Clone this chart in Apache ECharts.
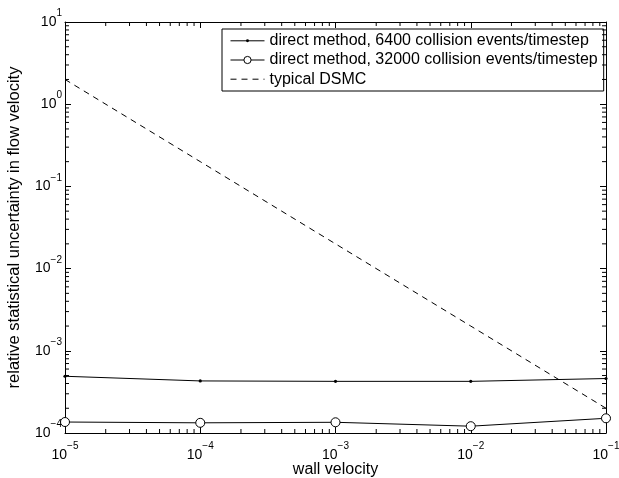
<!DOCTYPE html>
<html><head><meta charset="utf-8">
<script src="https://cdn.jsdelivr.net/npm/echarts@6/dist/echarts.min.js"></script>
<style>html,body{margin:0;padding:0;background:#fff}#c{width:619px;height:478px}</style>
</head><body><div id="c"></div>
<script>
const wallVelocity = [1e-5, 1e-4, 1e-3, 1e-2, 1e-1];
const direct6400 = [4.9e-4, 4.3e-4, 4.25e-4, 4.25e-4, 4.6e-4];
const direct32000 = [1.36e-4, 1.33e-4, 1.35e-4, 1.21e-4, 1.51e-4];
const typicalDSMC = [2.0, 0.2, 0.02, 0.002, 0.0002];
const seriesNames = ['direct method, 6400 collision events/timestep', 'direct method, 32000 collision events/timestep', 'typical DSMC'];
const xTitle = 'wall velocity';
const yTitle = 'relative statistical uncertainty in flow velocity';
const xRange = [1e-5, 1e-1];
const yRange = [1e-4, 1e1];

const FONT = 'Liberation Sans';
// small dot symbol with transparent padding so the legend copy stays small
const DOT = 'path://M0,0L0,0M10,10L10,10M5,3A2,2,0,1,1,5,7A2,2,0,1,1,5,3Z';

function minorValues(lo, hi) {
  const out = [];
  for (let e = Math.round(Math.log10(lo)); e < Math.round(Math.log10(hi)); e++)
    for (let m = 2; m <= 9; m++) out.push(m * Math.pow(10, e));
  return out;
}
function sup(v) {
  const e = Math.round(Math.log10(v));
  return '{b|10}{s|' + (e < 0 ? '\u2212' : '') + Math.abs(e) + '}';
}
const rich = {
  b: {fontSize: 14, fontFamily: FONT, color: '#000', lineHeight: 14},
  s: {fontSize: 10, fontFamily: FONT, color: '#000', lineHeight: 10, padding: [0, 0, 17, 0]}
};
const zip = (xs, ys) => xs.map((x, i) => [x, ys[i]]);

function baseAxis(extra) {
  return Object.assign({
    type: 'log', logBase: 10,
    axisLine: {show: true, onZero: false, lineStyle: {color: '#000', width: 1}},
    axisTick: {show: true, inside: true, length: 6, lineStyle: {color: '#000', width: 1}},
    splitLine: {show: false},
    minorTick: {show: false},
    minorSplitLine: {show: false},
    nameMoveOverlap: false
  }, extra);
}

const chart = echarts.init(document.getElementById('c'), null, {renderer: 'canvas'});
const option = {
  animation: false,
  backgroundColor: '#fff',
  grid: {left: 65, right: 13, top: 22, bottom: 45, containLabel: false, outerBoundsMode: 'none'},
  legend: {
    orient: 'vertical', left: 222, top: 29,
    backgroundColor: '#fff', borderColor: '#000', borderWidth: 1, borderRadius: 0,
    padding: [3.8, 6, 3.8, 8], itemGap: 3.2, itemWidth: 34, itemHeight: 9,
    lineStyle: {width: 1},
    textStyle: {fontFamily: FONT, fontSize: 16, lineHeight: 14, color: '#000'},
    data: [
      {name: seriesNames[0], itemStyle: {borderWidth: 0}},
      {name: seriesNames[1], itemStyle: {borderWidth: 1}},
      {name: seriesNames[2], itemStyle: {opacity: 0}}
    ]
  },
  xAxis: [
    baseAxis({min: xRange[0], max: xRange[1], position: 'bottom',
      name: xTitle, nameLocation: 'middle', nameGap: 29,
      nameTextStyle: {fontFamily: FONT, fontSize: 16, color: '#000'},
      axisLabel: {show: true, margin: 15, formatter: sup, rich: rich}}),
    baseAxis({min: xRange[0], max: xRange[1], position: 'top', axisLabel: {show: false}})
  ],
  yAxis: [
    baseAxis({min: yRange[0], max: yRange[1], position: 'left',
      name: yTitle, nameLocation: 'middle', nameGap: 42,
      nameTextStyle: {fontFamily: FONT, fontSize: 16.5, color: '#000'},
      axisLabel: {show: true, margin: 3, formatter: sup, rich: rich}}),
    baseAxis({min: yRange[0], max: yRange[1], position: 'right', axisLabel: {show: false}})
  ],
  series: [
    {
      name: seriesNames[0], type: 'line', data: zip(wallVelocity, direct6400),
      symbol: DOT, symbolSize: 8, showAllSymbol: true,
      lineStyle: {color: '#000', width: 1}, itemStyle: {color: '#000', borderWidth: 0}, z: 3
    },
    {
      name: seriesNames[1], type: 'line', data: zip(wallVelocity, direct32000),
      symbol: 'circle', symbolSize: 9, showAllSymbol: true,
      lineStyle: {color: '#000', width: 1},
      itemStyle: {color: '#fff', borderColor: '#000', borderWidth: 1}, z: 3
    },
    {
      name: seriesNames[2], type: 'line', data: zip(wallVelocity, typicalDSMC),
      symbol: 'none', lineStyle: {color: '#000', width: 1, type: [6, 5]},
      itemStyle: {color: '#000', opacity: 0}, z: 3
    },
    {
      type: 'custom', silent: true, z: 4,
      data: minorValues(xRange[0], xRange[1]).map(v => [v, yRange[0]]),
      renderItem: function (params, api) {
        const b = api.coord([api.value(0), yRange[0]]);
        const t = api.coord([api.value(0), yRange[1]]);
        const st = {stroke: '#000', lineWidth: 1};
        return {type: 'group', children: [
          {type: 'line', shape: {x1: b[0], y1: b[1], x2: b[0], y2: b[1] - 4}, style: st},
          {type: 'line', shape: {x1: t[0], y1: t[1], x2: t[0], y2: t[1] + 4}, style: st}
        ]};
      }
    },
    {
      type: 'custom', silent: true, z: 4,
      data: minorValues(yRange[0], yRange[1]).map(v => [xRange[0], v]),
      renderItem: function (params, api) {
        const l = api.coord([xRange[0], api.value(1)]);
        const r = api.coord([xRange[1], api.value(1)]);
        const st = {stroke: '#000', lineWidth: 1};
        return {type: 'group', children: [
          {type: 'line', shape: {x1: l[0], y1: l[1], x2: l[0] + 4, y2: l[1]}, style: st},
          {type: 'line', shape: {x1: r[0], y1: r[1], x2: r[0] - 4, y2: r[1]}, style: st}
        ]};
      }
    }
  ]
};
chart.setOption(option);
</script>
</body></html>
